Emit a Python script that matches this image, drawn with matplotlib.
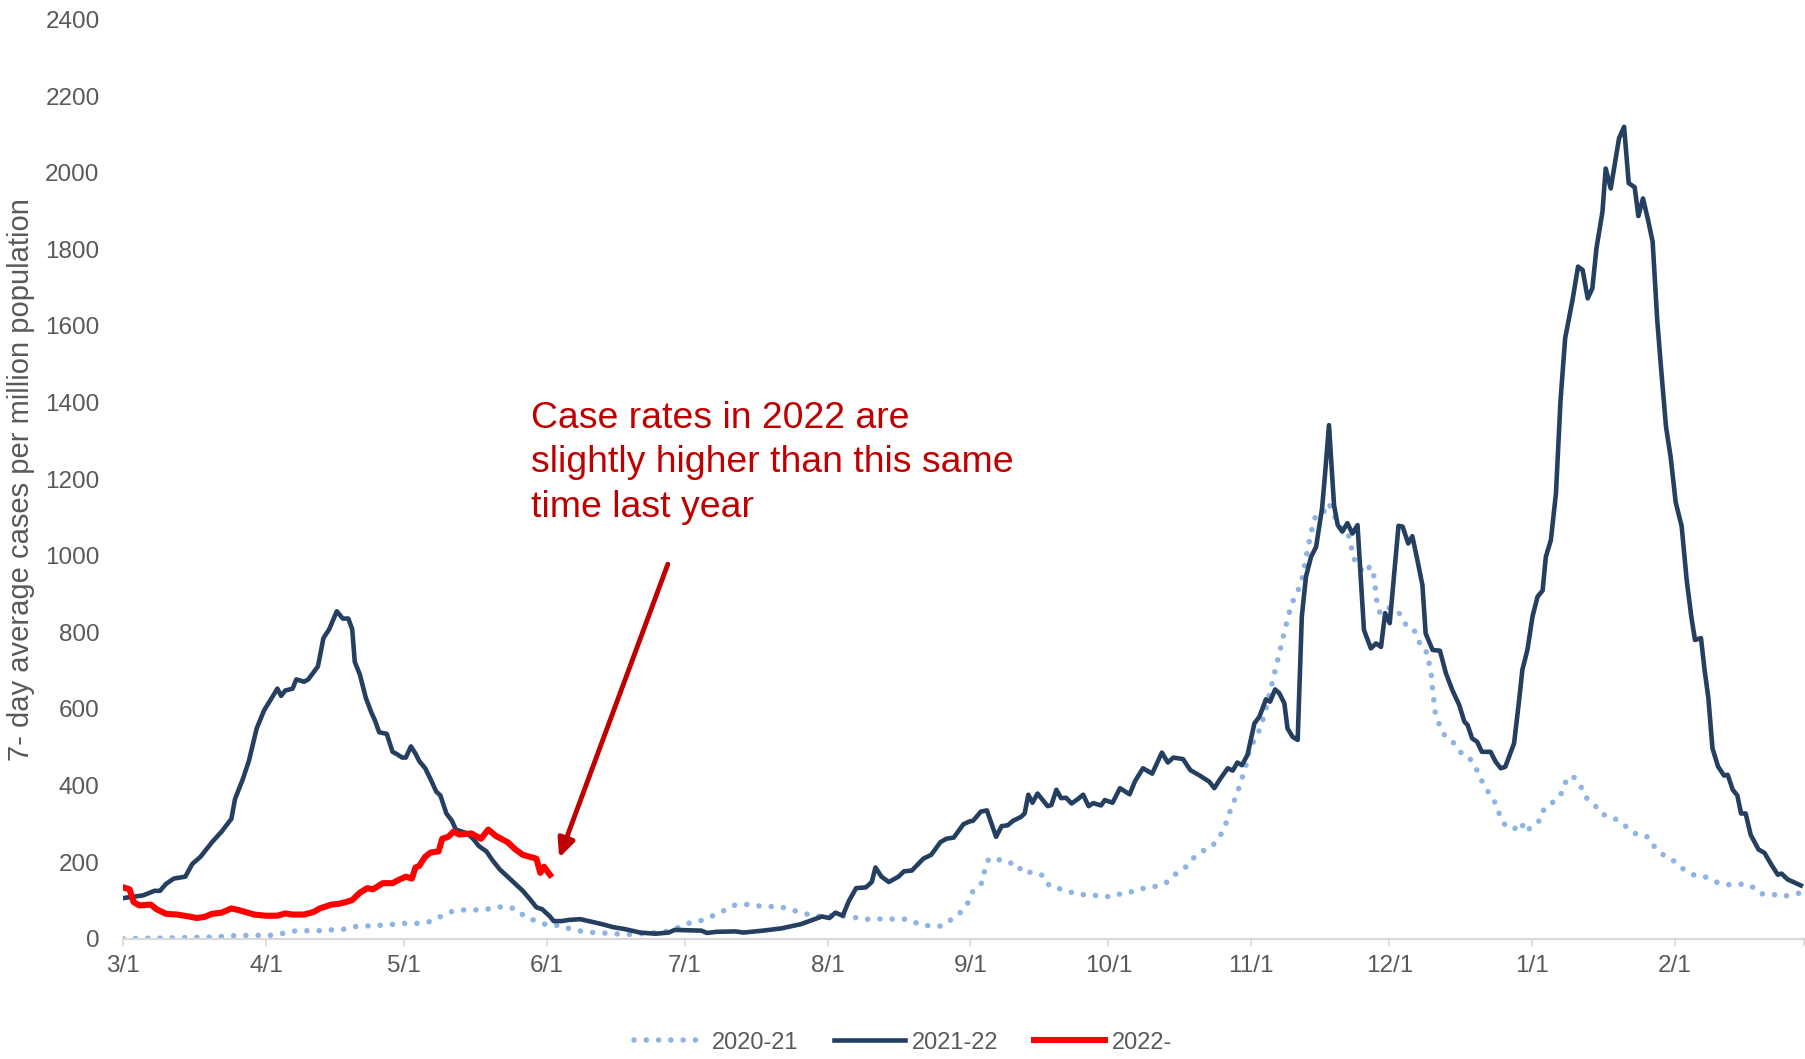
import matplotlib
matplotlib.use("Agg")
import matplotlib.pyplot as plt

plt.rcParams['font.family'] = ['Liberation Sans', 'DejaVu Sans']

# days since 3/1 and 7-day average cases per million
days_2021 = [0, 19, 24.3, 32, 34.75, 37.7, 42.7, 48, 50.6, 56, 61, 64, 66.4, 69, 71.4, 73.5, 76.4, 79, 81, 83,
             85.5, 87.25, 89.75, 92.25, 94.75, 97.25, 99.75, 102.25, 104, 109.8, 112.3, 117.7, 120.2, 122.7,
             125.2, 127.7, 130.1, 132.6, 135.1, 137.6, 140.1, 142.6, 145.1, 147.6, 150.1, 152.6, 155.1, 158,
             160.5, 163, 165.5, 168, 170.5, 173, 175.5, 177.8, 180, 182.1, 183.6, 184.6, 186.7, 187.1, 188,
             189.9, 192.1, 194, 195.4, 197.5, 200, 201.2, 202.9, 205.2, 207.6, 210.1, 212.6, 215.1, 217.6,
             219.8, 222.1, 224.5, 226.8, 228.6, 230.7, 232.3, 234.3, 236.4, 238, 239.3, 240.1, 241, 242,
             242.8, 243.7, 244.7, 246, 247, 248, 249, 250, 251, 252, 253, 254, 255, 256, 257, 258, 259, 260.5,
             261.9, 263, 264.1, 265.9, 266.7, 267, 268.1, 269.5, 270.9, 271.7, 272.3, 273, 274.6, 276.3,
             277.5, 278.8, 280.4, 281.4, 282.2, 283.3, 283.7, 284.2, 284.4, 284.7, 285, 285.9, 287.1, 289.1,
             290.7, 292, 293.5, 294.6, 295.7, 297.1, 298.3, 299.1, 300.4, 302.2, 303.6, 304.7, 306.4, 307.8,
             308.6, 310.7, 312.5, 313.4, 314.8, 316.5, 317.6, 319.6, 321.2, 323.4, 325.5, 327.2, 329.3,
             331.2, 332.6, 334.5, 336.6, 338.6, 341, 343.5, 346, 348.5, 351, 353.5, 355.6, 358, 360.2,
             362.7, 364.4]
vals_2021 = [0, 4, 8, 9, 14, 21, 21, 25, 32, 35, 40, 40, 44, 58, 71, 75, 75, 77, 82, 84,
             77, 57, 46, 35, 35, 25, 19, 16, 15, 11, 13, 18, 27, 40,
             46, 58, 71, 87, 90, 86, 84, 84, 75, 68, 58, 60, 60, 58,
             51, 51, 52, 51, 51, 37, 33, 33, 51, 71, 96, 126, 148, 179, 209,
             208, 197, 198, 172, 174, 164, 137, 132, 124, 115, 115, 110, 110, 122,
             123, 134, 137, 148, 169, 186, 209, 228, 240, 263, 292, 323, 351, 381,
             412, 443, 497, 525, 550, 590, 640, 690, 740, 790, 840, 880, 904, 935, 1000, 1060, 1105, 1110,
             1137, 1106, 1076, 1063, 1031, 999, 976, 954, 973, 945, 880, 850, 865, 861,
             845, 815, 806, 778, 754, 747, 715, 684, 651, 621, 589, 558, 529, 510,
             484, 478, 454, 425, 397, 373, 349, 318, 292, 287, 304, 278, 300, 309,
             339, 358, 381, 412, 426, 400, 370, 349, 325, 318, 302, 285, 268,
             266, 240, 219, 205, 184, 167, 162, 148, 141, 143, 139, 117, 117, 110,
             115, 120]

days_2122 = [0, 4.3, 6.8, 8, 9.3, 11, 13.5, 15, 16.8, 19.3, 21.4, 23.5, 24.3, 26, 27.3, 29, 30.6, 33.5, 34.3,
             35.2, 36.8, 37.6, 39.3, 40.2, 42.3, 43.5, 44.75, 46.4, 47.7, 48.9, 49.75, 50.3, 51.4, 52.7, 53.9,
             54.75, 55.6, 57.25, 58.5, 59.3, 60.6, 61.4, 62.5, 63.5, 64.3, 65.6, 66.75, 68, 68.9, 70.2, 71.4,
             72.25, 73.5, 74.75, 76, 77.25, 78.9, 80.2, 81.8, 84.3, 86.8, 88.5, 89.75, 91, 92.7, 93.5, 95.2,
             96.8, 99.3, 101.8, 104, 106.5, 109, 112.3, 115.6, 118.5, 119.8, 125.6, 126.8, 128.9, 133, 134.7,
             138.9, 143, 147.2, 149.7, 151.8, 153.4, 154.7, 156.3, 157.6, 159.2, 161.3, 162.6, 163.4, 164.7,
             166.3, 168.4, 169.6, 171.3, 173.8, 175.5, 177.5, 178.8, 180.4, 182.5, 183.8, 184.6, 186.3, 187.6,
             189.6, 190.8, 192.1, 193.3, 195, 195.8, 196.6, 197.5, 198.6, 200.8, 201.6, 202.7, 203.7, 204.8,
             206, 207.4, 208.5, 209.7, 210.7, 212.4, 213.2, 214.9, 216.5, 218.6, 219.8, 221.5, 223.5, 225.6,
             226.9, 228.1, 230.2, 231.8, 233.7, 235.9, 237, 238.1, 239.9, 241, 242, 243, 244.2, 245.7, 246.8,
             248.2, 249.1, 250.2, 251.1, 252.2, 252.9, 254, 255.1, 256, 256.9, 258, 259.1, 260.4, 261, 261.9,
             263, 263.8, 264.8, 265.9, 267, 268.1, 269.5, 271, 272.1, 273.2, 274.1, 275.1, 277, 277.9, 279.1,
             280, 281.1, 282.2, 282.9, 284.4, 286, 287.3, 288.7, 290.2, 291.3, 292, 293, 294.1, 295.1, 297,
             298.1, 299.2, 300.2, 301, 302.1, 303.2, 303.9, 305, 306.1, 307.2, 308.3, 309, 310.1, 311.2, 312.2,
             313.2, 314.8, 316, 317, 318.1, 319.1, 320, 321.3, 322, 323.1, 324.9, 326, 327, 328.3, 329.1,
             330.1, 331.2, 332.2, 333.2, 334, 335.1, 336.1, 337.2, 338.5, 339.6, 340.6, 341.4, 342.7, 343.5,
             344.3, 345.2, 346.4, 347.7, 348.5, 349.6, 350.6, 351.4, 352.4, 353.5, 355.2, 356.5, 358.1, 359.4,
             360.2, 361.5, 364.4]
vals_2122 = [106, 113, 125, 125, 143, 157, 162, 195, 214, 252, 280, 313, 365, 417, 464, 549, 596, 653, 634,
             648, 653, 677, 671, 677, 711, 785, 808, 855, 836, 836, 808, 723, 690, 629, 591,
             568, 539, 535, 488, 483, 473, 473, 502, 483, 464, 445, 417, 384, 374, 327, 308,
             285, 280, 275, 261, 242, 228, 205, 181, 153, 125, 101, 82, 77, 58, 46, 46,
             49, 51, 44, 38, 30, 25, 16, 13, 16, 23, 21, 15, 18, 19, 16,
             21, 27, 38, 49, 58, 54, 68, 60, 98, 132, 134, 148, 186, 162,
             148, 162, 176, 178, 209, 219, 252, 261, 264, 299, 306, 308, 332, 335,
             266, 294, 296, 308, 318, 327, 376, 355, 379, 346, 349, 389, 367, 368,
             353, 365, 376, 346, 354, 348, 362, 355, 393, 377, 412, 445, 431, 486,
             460, 473, 469, 440, 427, 410, 393, 414, 445, 439, 460, 453, 480, 562, 580,
             625, 619, 651, 641, 615, 549, 527, 519, 841, 945, 997, 1023, 1124, 1206, 1341,
             1132, 1080, 1063, 1085, 1058, 1080, 806, 758, 771, 762, 850, 824, 1078, 1076, 1032,
             1051, 989, 923, 797, 754, 752, 693, 649, 610, 567, 558, 523, 514, 488, 488,
             462, 445, 449, 475, 510, 623, 702, 754, 841, 893, 909, 997, 1041, 1163, 1407,
             1568, 1668, 1755, 1746, 1672, 1698, 1803, 1898, 2011, 1959, 2090, 2120, 1973, 1962, 1887,
             1933, 1877, 1820, 1615, 1494, 1337, 1259, 1140, 1077, 936, 841, 780, 785, 700,
             629, 497, 450, 426, 428, 389, 374, 327, 327, 271, 233, 224, 191, 167,
             170, 155, 139]

days_22 = [0, 1.4, 2.25, 3.5, 6, 7.25, 9.3, 11.8, 14.3, 16, 17.7, 19.3, 21.4, 23.5, 25, 28.5, 31, 33.5, 35.2,
           36.8, 39.3, 41.4, 42.7, 45.2, 46.8, 48.5, 49.75, 51.4, 53, 54.25, 56.4, 58.5, 59.75, 61.4, 62.7,
           63.5, 64.3, 65.6, 66.75, 68.5, 69.3, 70.6, 71.8, 73, 75.6, 77.7, 79.3, 81, 83.5, 85.2, 86.8,
           89.75, 90.6, 91.4, 92.7]
vals_22 = [134, 129, 96, 87, 89, 77, 65, 63, 58, 54, 57, 65, 68, 79, 75, 63, 60, 60, 66,
           63, 63, 70, 79, 89, 91, 96, 101, 120, 132, 129, 145, 145, 153, 162, 157,
           186, 190, 214, 225, 228, 261, 266, 280, 272, 275, 261, 285, 268, 252, 233, 219,
           209, 172, 188, 167]

month_days = [0, 31, 61, 92, 122, 153, 184, 214, 245, 275, 306, 337, 365]
month_labels = ['3/1', '4/1', '5/1', '6/1', '7/1', '8/1', '9/1', '10/1', '11/1', '12/1', '1/1', '2/1', '']

fig = plt.figure(figsize=(18.06, 10.59), dpi=100)
ax = fig.add_axes([0.0682, 0.1136, 0.9305, 0.8679])

ax.plot(days_2021, vals_2021, color='#8DB4E2', lw=4.0, linestyle=(0, (0.01, 2.2)),
        dash_capstyle='round', solid_capstyle='round', label='2020-21')
ax.plot(days_2122, vals_2122, color='#243F60', lw=3.3, solid_joinstyle='round', label='2021-22')
ax.plot(days_22, vals_22, color='#FF0000', lw=4.4, solid_joinstyle='round', label='2022-')

ax.set_xlim(0, 365)
ax.set_ylim(0, 2400)
ax.set_yticks(range(0, 2401, 200))
ax.set_xticks(month_days)
ax.set_xticklabels(month_labels)

for s in ['top', 'right', 'left']:
    ax.spines[s].set_visible(False)
ax.spines['bottom'].set_color('#D9D9D9')
ax.spines['bottom'].set_linewidth(1.5)
ax.tick_params(axis='y', length=0, pad=17, labelsize=17.5, labelcolor='#595959')
ax.tick_params(axis='x', length=5, width=1.2, color='#D9D9D9', pad=7, labelsize=17.5, labelcolor='#595959')

ax.set_ylabel('7- day average cases per million population', fontsize=21, color='#595959', labelpad=7)

ax.annotate('', xy=(94.7, 211), xytext=(118.3, 978),
            arrowprops=dict(arrowstyle='-|>,head_length=1.1,head_width=0.5', color='#C00000', lw=3.5,
                            shrinkA=0, shrinkB=0))
ax.text(88.6, 1102, 'Case rates in 2022 are\nslightly higher than this same\ntime last year',
        fontsize=26.9, color='#C00000', ha='left', va='baseline', linespacing=1.34)

leg = fig.legend(loc='center', bbox_to_anchor=(0.5, 0.0155), ncol=3, frameon=False, fontsize=17,
                 handlelength=3.0, handletextpad=0.3, columnspacing=1.5)
for t in leg.get_texts():
    t.set_color('#595959')

fig.savefig('out.png', dpi=100)
